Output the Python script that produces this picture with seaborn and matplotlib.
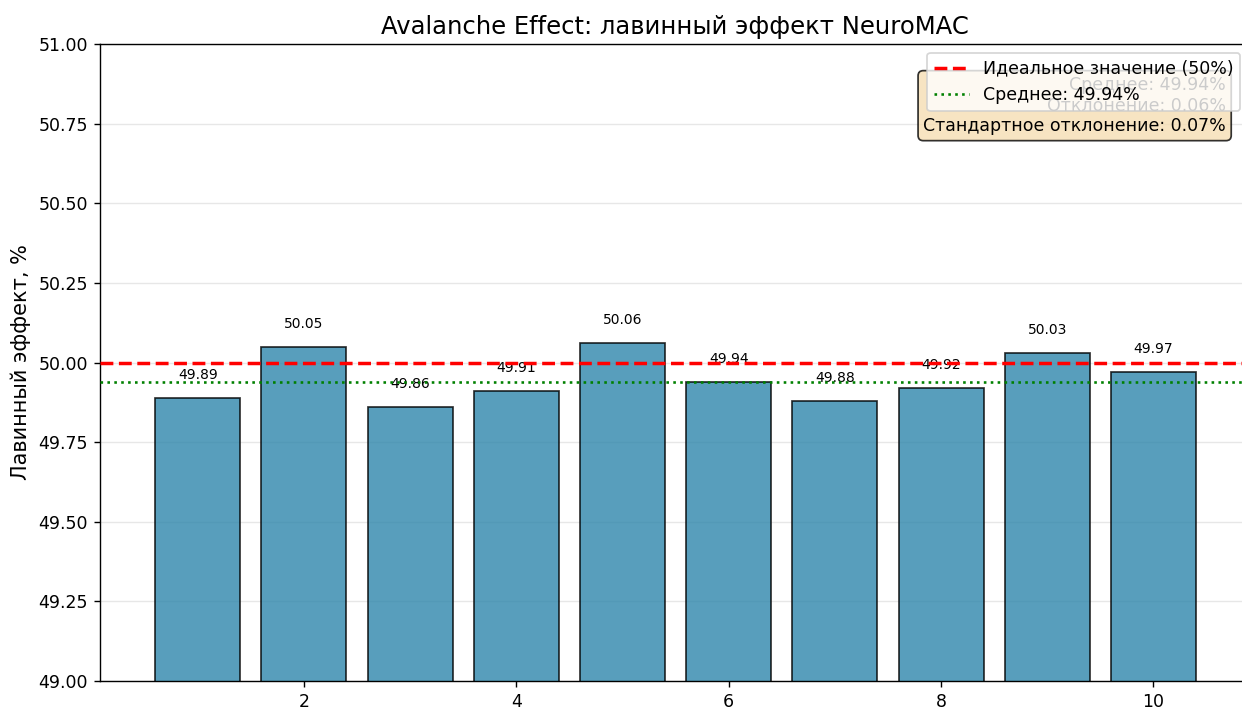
import matplotlib
matplotlib.use('Agg')
import matplotlib.pyplot as plt
import pandas as pd
import seaborn as sns

# Data
tests = [1, 2, 3, 4, 5, 6, 7, 8, 9, 10]
avalanche = [49.89, 50.05, 49.86, 49.91, 50.06, 49.94, 49.88, 49.92, 50.03, 49.97]
ideal = 50.0
mean_val = 49.94
dev_val = 0.06
std_val = 0.07

df = pd.DataFrame({'test': tests, 'avalanche': avalanche})

plt.rcParams['font.family'] = ['DejaVu Sans']

fig = plt.figure(figsize=(1242 / 125, 709 / 125), dpi=125)
ax = fig.add_axes([100 / 1242, 28 / 709, 1149 / 1242, 637 / 709])

sns.barplot(data=df, x='test', y='avalanche', native_scale=True, width=0.8,
            color='#2E86AB', saturation=1, alpha=0.8, edgecolor='black',
            linewidth=1.0, ax=ax, zorder=2)

for x, v in zip(tests, avalanche):
    ax.text(x, v + 0.05, f'{v:.2f}', ha='center', va='bottom', fontsize=8)

ax.axhline(ideal, color='red', linestyle='--', linewidth=2,
           label='Идеальное значение (50%)', zorder=3)
ax.axhline(mean_val, color='green', linestyle=':', linewidth=1.5,
           label=f'Среднее: {mean_val:.2f}%', zorder=3)

ax.text(0.98, 0.95,
        f'Среднее: {mean_val:.2f}%\nОтклонение: {dev_val:.2f}%\n'
        f'Стандартное отклонение: {std_val:.2f}%',
        transform=ax.transAxes, ha='right', va='top', fontsize=10,
        bbox=dict(boxstyle='round', facecolor='wheat', alpha=0.8,
                  edgecolor='black'))

ax.set_ylim(49.0, 51.0)
ax.set_xlim(0.08, 10.9)
ax.set_xticks([2, 4, 6, 8, 10])
ax.set_yticks([49.0, 49.25, 49.5, 49.75, 50.0, 50.25, 50.5, 50.75, 51.0])
ax.set_yticklabels([f'{t:.2f}' for t in ax.get_yticks()])
ax.grid(axis='y', alpha=0.3)
ax.set_axisbelow(True)
ax.set_xlabel('')
ax.set_ylabel('Лавинный эффект, %', fontsize=12)
ax.set_title('Avalanche Effect: лавинный эффект NeuroMAC', fontsize=14)
ax.legend(loc='upper right', fontsize=10, framealpha=0.8)

fig.savefig('out.png', dpi=125)
